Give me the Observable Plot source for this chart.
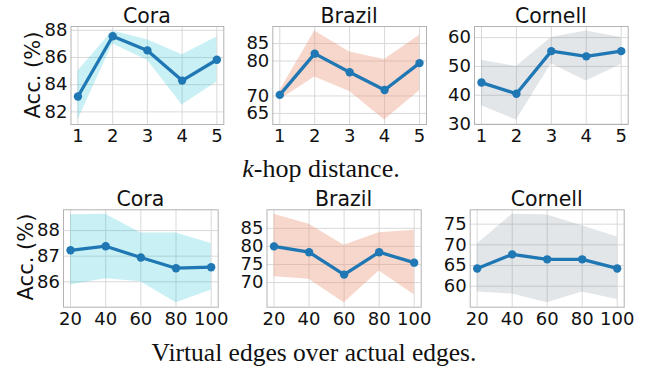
<!DOCTYPE html>
<html>
<head>
<meta charset="utf-8">
<script src="https://cdn.jsdelivr.net/npm/d3@7"></script>
<script src="https://cdn.jsdelivr.net/npm/@observablehq/plot@0.6"></script>
<style>
  html, body { margin: 0; padding: 0; background: #fff; }
  #chart { position: relative; width: 647px; height: 368px; overflow: hidden; background: #fff; }
  #chart svg.panel { position: absolute; }
  #overlay { position: absolute; left: 0; top: 0; }
</style>
</head>
<body>
<div id="chart"></div>
<script>
// ---------- data ----------
const kHops = [1, 2, 3, 4, 5];
const virtualPct = [20, 40, 60, 80, 100];

const coraKMean = [83.13, 87.56, 86.52, 84.3, 85.83];
const coraKLow  = [81.4, 87.0, 85.8, 82.5, 84.2];
const coraKHigh = [85.0, 87.95, 87.3, 86.2, 87.5];

const brazilKMean = [70.3, 82.1, 76.8, 71.7, 79.4];
const brazilKLow  = [68.9, 75.4, 71.3, 63.1, 71.5];
const brazilKHigh = [71.5, 88.6, 82.6, 80.4, 87.4];

const cornellKMean = [44.4, 40.5, 55.3, 53.5, 55.3];
const cornellKLow  = [36.4, 31.4, 50.9, 44.9, 50.7];
const cornellKHigh = [52.1, 50.0, 60.0, 62.3, 60.0];

const coraVMean = [87.23, 87.39, 86.95, 86.53, 86.57];
const coraVLow  = [85.87, 86.12, 86.0, 85.18, 85.67];
const coraVHigh = [88.62, 88.64, 87.91, 87.91, 87.5];

const brazilVMean = [80.0, 78.4, 72.2, 78.4, 75.5];
const brazilVLow  = [71.6, 70.9, 64.4, 73.2, 66.6];
const brazilVHigh = [88.9, 86.1, 80.3, 83.8, 84.5];

const cornellVMean = [64.3, 67.7, 66.5, 66.5, 64.3];
const cornellVLow  = [58.6, 58.1, 56.0, 58.6, 56.8];
const cornellVHigh = [70.2, 77.4, 77.2, 74.6, 71.9];

const coraYTicksK = [82, 84, 86, 88];
const brazilYTicksK = [65, 70, 80, 85];
const cornellYTicksK = [30, 40, 50, 60];
const coraYTicksV = [86, 87, 88];
const brazilYTicksV = [70, 75, 80, 85];
const cornellYTicksV = [60, 65, 70, 75];

const datasetNames = ["Cora", "Brazil", "Cornell"];
const yLabel = "Acc. (%)";
const xLabelTopRest = "-hop distance.";
const xLabelBottom = "Virtual edges over actual edges.";

// ---------- styles ----------
const lineColor = "#1f77b4";
const bandColors = { Cora: "#17becf", Brazil: "#e9967a", Cornell: "#708090" };
const bandOpacity = { Cora: 0.23, Brazil: 0.38, Cornell: 0.2 };
const tickFont = 18;

const chart = document.getElementById("chart");

function panel(opts) {
  const { xs, mean, low, high, yTicks, name, frame } = opts;
  const rows = xs.map((x, i) => ({ x, mean: mean[i], low: low[i], high: high[i] }));
  const xmin = d3.min(xs), xmax = d3.max(xs), xr = xmax - xmin;
  const ymin = d3.min(low), ymax = d3.max(high), yr = ymax - ymin;
  const xDomain = [xmin - 0.05 * xr, xmax + 0.05 * xr];
  const yDomain = [ymin - 0.05 * yr, ymax + 0.05 * yr];
  const mL = 48, mT = 6, mR = 26, mB = 32;
  const svgLeft = Math.round(frame.l - mL), svgTop = Math.round(frame.t - mT);
  const marginLeft = frame.l - svgLeft, marginTop = frame.t - svgTop;
  const width = Math.round(frame.r + mR) - svgLeft;
  const height = Math.round(frame.b + mB) - svgTop;
  const marginRight = svgLeft + width - frame.r;
  const marginBottom = svgTop + height - frame.b;
  const svg = Plot.plot({
    width, height, marginLeft, marginTop, marginRight, marginBottom,
    style: `background:transparent;overflow:visible;font-family:'DejaVu Sans';font-size:${tickFont}px;color:#111;`,
    x: { domain: xDomain, label: null },
    y: { domain: yDomain, label: null },
    marks: [
      Plot.gridX(xs, { stroke: "#d9d9d9", strokeOpacity: 1, strokeWidth: 1 }),
      Plot.gridY(yTicks, { stroke: "#d9d9d9", strokeOpacity: 1, strokeWidth: 1 }),
      Plot.areaY(rows, { x: "x", y1: "low", y2: "high", fill: bandColors[name], fillOpacity: bandOpacity[name] }),
      Plot.frame({ stroke: "#b3b3b3", strokeWidth: 1 }),
      Plot.line(rows, { x: "x", y: "mean", stroke: lineColor, strokeWidth: 3.3 }),
      Plot.dot(rows, { x: "x", y: "mean", r: 4.2, fill: lineColor, stroke: "none" }),
      Plot.axisX(xs, { tickSize: 0, tickPadding: 5, fontSize: tickFont, tickFormat: d => String(d), label: null, fill: "#111" }),
      Plot.axisY(yTicks, { tickSize: 0, tickPadding: 3.5, fontSize: tickFont, tickFormat: d => String(d), label: null, fill: "#111" })
    ]
  });
  svg.classList.add("panel");
  svg.style.left = svgLeft + "px";
  svg.style.top = svgTop + "px";
  chart.appendChild(svg);
}

const frames = [
  { l: 70.5, r: 223.3, t: 26, b: 124 },
  { l: 272.3, r: 426, t: 26, b: 124 },
  { l: 474, r: 627.7, t: 26, b: 124 },
  { l: 63, r: 217.7, t: 209.3, b: 306.7 },
  { l: 266.5, r: 420.7, t: 209.3, b: 306.7 },
  { l: 469.7, r: 623.7, t: 209.3, b: 306.7 }
];

panel({ xs: kHops, mean: coraKMean, low: coraKLow, high: coraKHigh, yTicks: coraYTicksK, name: "Cora", frame: frames[0] });
panel({ xs: kHops, mean: brazilKMean, low: brazilKLow, high: brazilKHigh, yTicks: brazilYTicksK, name: "Brazil", frame: frames[1] });
panel({ xs: kHops, mean: cornellKMean, low: cornellKLow, high: cornellKHigh, yTicks: cornellYTicksK, name: "Cornell", frame: frames[2] });
panel({ xs: virtualPct, mean: coraVMean, low: coraVLow, high: coraVHigh, yTicks: coraYTicksV, name: "Cora", frame: frames[3] });
panel({ xs: virtualPct, mean: brazilVMean, low: brazilVLow, high: brazilVHigh, yTicks: brazilYTicksV, name: "Brazil", frame: frames[4] });
panel({ xs: virtualPct, mean: cornellVMean, low: cornellVLow, high: cornellVHigh, yTicks: cornellYTicksV, name: "Cornell", frame: frames[5] });

// ---------- titles & labels ----------
const ov = d3.select(chart).append("svg").attr("id", "overlay")
  .attr("width", 647).attr("height", 368);

frames.forEach((f, i) => {
  ov.append("text")
    .attr("x", (f.l + f.r) / 2)
    .attr("y", i < 3 ? 22.7 : 206)
    .attr("text-anchor", "middle")
    .attr("font-family", "DejaVu Sans")
    .attr("font-size", 20.5)
    .attr("fill", "#111")
    .text(datasetNames[i % 3]);
});

[[40, 75], [33.3, 257]].forEach(([x, y]) => {
  ov.append("text")
    .attr("transform", `translate(${x},${y}) rotate(-90)`)
    .attr("text-anchor", "middle")
    .attr("font-family", "DejaVu Sans")
    .attr("font-size", 21)
    .attr("fill", "#111")
    .text(yLabel);
});

const t1 = ov.append("text")
  .attr("x", 321).attr("y", 177)
  .attr("text-anchor", "middle")
  .attr("font-family", "Liberation Serif")
  .attr("font-size", 26)
  .attr("fill", "#111");
t1.append("tspan").attr("font-style", "italic").text("k");
t1.append("tspan").text(xLabelTopRest);

ov.append("text")
  .attr("x", 314).attr("y", 361)
  .attr("text-anchor", "middle")
  .attr("font-family", "Liberation Serif")
  .attr("font-size", 25.5)
  .attr("fill", "#111")
  .text(xLabelBottom);
</script>
</body>
</html>
